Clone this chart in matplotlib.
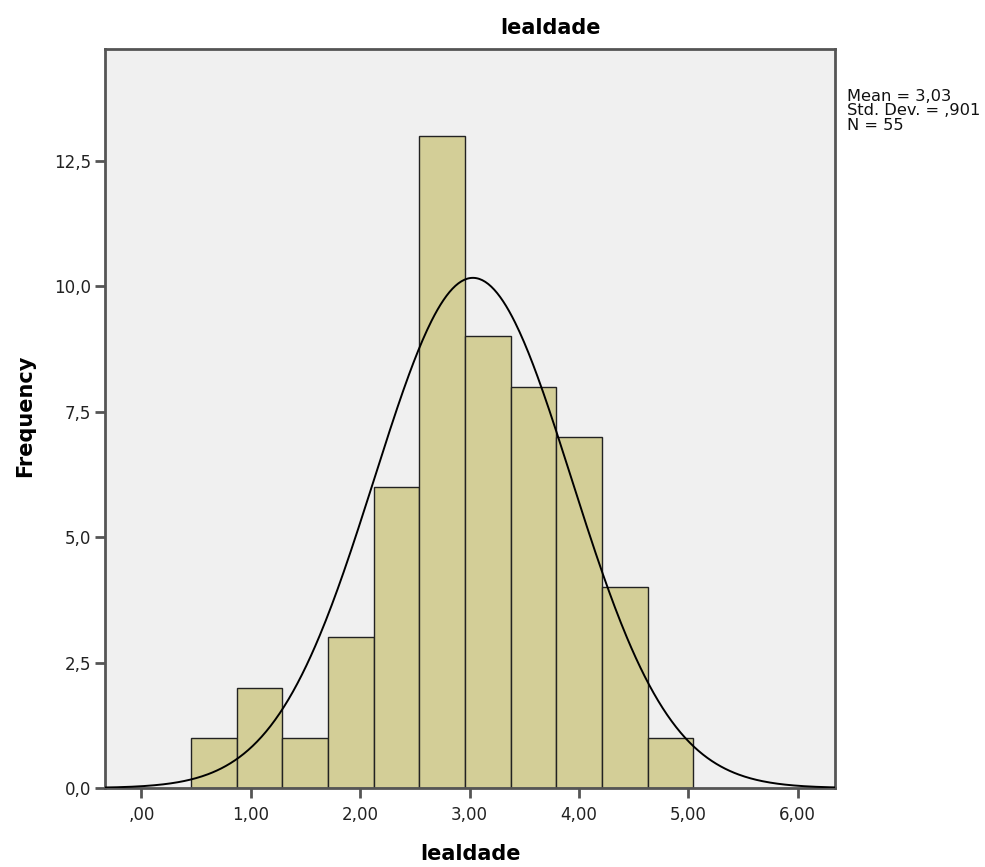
"""
SPSS style histogram of lealdade with normal curve
"""

import numpy as np
import matplotlib.pyplot as plt
from matplotlib.ticker import FuncFormatter

# data
bin_edges = [0.452, 0.870, 1.287, 1.705, 2.122, 2.540, 2.957, 3.375, 3.792, 4.210, 4.627, 5.045]
counts = [1, 2, 1, 3, 6, 13, 9, 8, 7, 4, 1]
mean = 3.03
std = 0.901
n = 55
x_ticks = [0, 1, 2, 3, 4, 5, 6]
y_ticks = [0, 2.5, 5, 7.5, 10, 12.5]

bar_col = '#D3CE97'
bg_col = '#F0F0F0'
spine_col = '#555555'

def comma_fmt(dec):
    def f(v, pos):
        s = ('%.' + str(dec) + 'f') % v
        s = s.replace('.', ',')
        if s.startswith('0,') and dec == 2:
            s = s[1:]
        return s
    return f

plt.close('all')
fig = plt.figure(figsize=(9.85, 8.67), dpi=100)
ax = fig.add_axes([105/985, 1 - 788/867, 730/985, 739/867])
ax.set_facecolor(bg_col)

edges = np.array(bin_edges)
widths = np.diff(edges)
ax.bar(edges[:-1], counts, width=widths, align='edge', color=bar_col,
       edgecolor='#222222', linewidth=1.0, zorder=2)

# normal curve scaled to the histogram
bw = widths.mean()
xs = np.linspace(-0.4, 6.4, 500)
ys = n * bw * np.exp(-0.5 * ((xs - mean) / std) ** 2) / (std * np.sqrt(2 * np.pi))
ax.plot(xs, ys, color='black', linewidth=1.4, zorder=3)

ax.set_xlim(-0.333, 6.34)
ax.set_ylim(0, 14.73)
ax.set_xticks(x_ticks)
ax.set_yticks(y_ticks)
ax.xaxis.set_major_formatter(FuncFormatter(comma_fmt(2)))
ax.yaxis.set_major_formatter(FuncFormatter(comma_fmt(1)))
ax.tick_params(axis='both', direction='out', length=7, width=2, color=spine_col,
               labelsize=12, labelcolor='#222222', pad=3)
ax.tick_params(axis='x', pad=6)
for side in ['left', 'bottom', 'top', 'right']:
    ax.spines[side].set_color(spine_col)
    ax.spines[side].set_linewidth(2)

# axis titles and chart title placed like the SPSS output
fig.text(470/985, 1 - 854/867, 'lealdade', fontsize=15, fontweight='bold',
         ha='center', va='center')
fig.text(25/985, 1 - 416/867, 'Frequency', fontsize=15, fontweight='bold',
         ha='center', va='center', rotation=90)
fig.text(550/985, 1 - 28/867, 'lealdade', fontsize=15, fontweight='bold',
         ha='center', va='center')

fig.text(847/985, 1 - 89/867, 'Mean = 3,03\nStd. Dev. = ,901\nN = 55',
         fontsize=11.7, ha='left', va='top', linespacing=0.95, color='#111111')

fig.savefig('out.png', dpi=100)
